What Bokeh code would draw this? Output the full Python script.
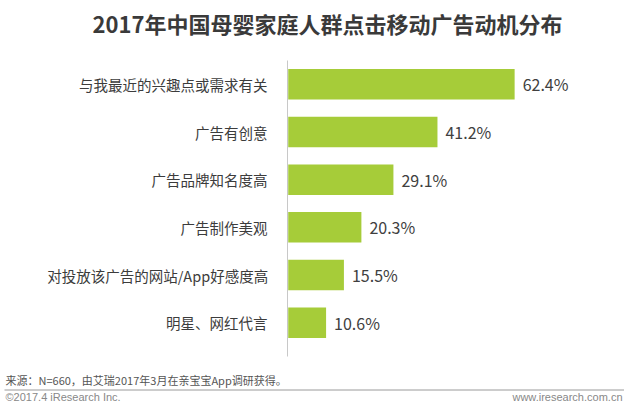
from bokeh.plotting import figure
from bokeh.models import Range1d
from bokeh.embed import file_html
from bokeh.resources import INLINE
from bokeh.core.properties import value

title_text = "2017年中国母婴家庭人群点击移动广告动机分布"
categories = ["与我最近的兴趣点或需求有关", "广告有创意", "广告品牌知名度高",
              "广告制作美观", "对投放该广告的网站/App好感度高", "明星、网红代言"]
values = [62.4, 41.2, 29.1, 20.3, 15.5, 10.6]
value_labels = ["62.4%", "41.2%", "29.1%", "20.3%", "15.5%", "10.6%"]
source_note = "来源：N=660，由艾瑞2017年3月在亲宝宝App调研获得。"
copyright_note = "©2017.4 iResearch Inc."
site_note = "www.iresearch.com.cn"

FONT = "Noto Sans CJK SC"
W, H = 624, 401
# layout of the plotting area in pixels
AX_X, AX_TOP, AX_BOTTOM = 287, 60, 346
PX_PER_PCT = 3.64

n = len(categories)
ypos = [n - i for i in range(n)]  # first category at the top
step = (AX_BOTTOM - AX_TOP) / n

p = figure(width=W, height=H,
           x_range=Range1d(-AX_X / PX_PER_PCT, (W - AX_X) / PX_PER_PCT),
           y_range=Range1d(0.5 - (H - AX_BOTTOM) / step, n + 0.5 + AX_TOP / step),
           x_axis_type=None, y_axis_type=None, toolbar_location=None,
           output_backend="svg", min_border=0)
# pixel ranges for title, footer and decorations
p.extra_x_ranges = {"px": Range1d(0, W)}
p.extra_y_ranges = {"py": Range1d(H, 0)}
p.outline_line_color = None

# category axis line
p.segment(x0=[AX_X], y0=[AX_TOP], x1=[AX_X], y1=[AX_BOTTOM + 10],
          x_range_name="px", y_range_name="py", line_color="#c8c8c8", line_width=1)

p.hbar(y=ypos, right=values, left=0.2, height=0.64, fill_color="#a6cc39",
       line_color=None)
p.text(x=values, y=ypos, text=value_labels, x_offset=8, text_baseline="middle",
       text_font=value(FONT), text_font_size="16px", text_color="#404040")
p.text(x=[0] * n, y=ypos, text=categories, x_offset=-20, text_align="right",
       text_baseline="middle", text_font=value(FONT), text_font_size="14.5px",
       text_color="#3c3c3c")

p.text(x=[327], y=[22], x_range_name="px", y_range_name="py", text=[title_text],
       text_align="center", text_baseline="middle", text_font=value(FONT),
       text_font_size="22px", text_font_style="bold", text_color="#3a3a3a")

# footer
p.text(x=[5], y=[379], x_range_name="px", y_range_name="py", text=[source_note],
       text_baseline="middle", text_font=value(FONT), text_font_size="11px",
       text_color="#555555")
p.segment(x0=[4], y0=[389.5], x1=[W], y1=[389.5], x_range_name="px", y_range_name="py",
          line_color="#9a9a9a", line_width=1)
p.text(x=[5], y=[396], x_range_name="px", y_range_name="py", text=[copyright_note],
       text_baseline="middle", text_font=value("Liberation Sans"), text_font_size="11px",
       text_color="#888888")
p.text(x=[622], y=[396], x_range_name="px", y_range_name="py", text=[site_note],
       text_baseline="middle", text_align="right", text_font=value("Liberation Sans"),
       text_font_size="11px", text_color="#888888")

open("out.html", "w").write(file_html(p, INLINE))
